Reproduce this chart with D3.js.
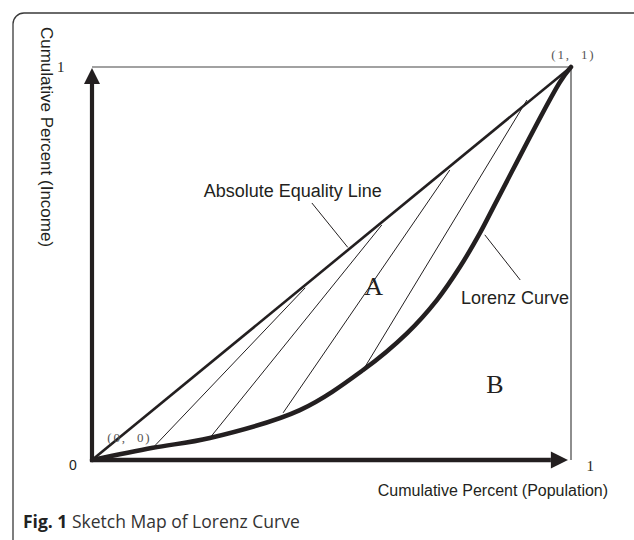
<!DOCTYPE html>
<html>
<head>
<meta charset="utf-8">
<script src="https://cdn.jsdelivr.net/npm/d3@7"></script>
<style>
  body { margin: 0; background: #fff; }
  svg { display: block; }
</style>
</head>
<body>
<svg id="chart" width="634" height="540"></svg>
<script>
// lorenz curve
const lorenzPop    = [0, 0.127, 0.246, 0.434, 0.566, 0.658, 0.720, 0.768, 0.810, 0.846, 0.977, 1]
const lorenzIncome = [0, 0.031, 0.056, 0.127, 0.229, 0.323, 0.407, 0.491, 0.578, 0.662, 0.962, 1]

const equalityPop    = [0, 1]
const equalityIncome = [0, 1]

// hatch lines inside area A (start on the curve, end near the equality line)
const hatchStartPop    = [0.127, 0.246, 0.399, 0.566]
const hatchStartIncome = [0.031, 0.056, 0.120, 0.229]
const hatchEndPop      = [0.445, 0.605, 0.747, 0.908]
const hatchEndIncome   = [0.438, 0.598, 0.738, 0.916]

const tickLabels = ["0", "1"]
const pointLabels = ["(0,\u00a0\u00a00)", "(1,\u00a0\u00a01)"]
const areaLabels = ["A", "B"]

const svg = d3.select("#chart")
const margin = {top: 67, right: 63, bottom: 80, left: 92}
const W = 634, H = 540

const x = d3.scaleLinear().domain([0, 1]).range([margin.left, W - margin.right])
const y = d3.scaleLinear().domain([0, 1]).range([H - margin.bottom, margin.top])

const ink = "#231f20"
const line = d3.line().x(d => x(d[0])).y(d => y(d[1]))

// rounded frame round the figure
svg.append("rect")
  .attr("x", 13).attr("y", 13)
  .attr("width", 640).attr("height", 560)
  .attr("rx", 11)
  .attr("fill", "none")
  .attr("stroke", "#3a3a3a")
  .attr("stroke-width", 1.3)

// thin box: top and right side of the unit square
svg.append("path")
  .attr("d", line([[0, 1], [1, 1], [1, 0]]))
  .attr("fill", "none")
  .attr("stroke", "#444")
  .attr("stroke-width", 1.2)

// axes with arrow heads
svg.append("defs").append("marker")
  .attr("id", "arrow")
  .attr("viewBox", "0 0 10 10")
  .attr("refX", 0).attr("refY", 5)
  .attr("markerWidth", 4.4).attr("markerHeight", 3.8)
  .attr("markerUnits", "strokeWidth")
  .attr("orient", "auto")
  .append("path")
  .attr("d", "M0,0L10,5L0,10Z")
  .attr("fill", ink)

svg.append("path")
  .attr("d", line([[-0.004, 0], [0.958, 0]]))
  .attr("stroke", ink).attr("stroke-width", 4.5)
  .attr("marker-end", "url(#arrow)")

svg.append("path")
  .attr("d", line([[0, -0.005], [0, 0.957]]))
  .attr("stroke", ink).attr("stroke-width", 4.2)
  .attr("marker-end", "url(#arrow)")

// hatch lines
svg.selectAll(".hatch")
  .data(hatchStartPop)
  .enter()
  .append("path")
  .classed("hatch", true)
  .attr("d", (d, i) => line([[d, hatchStartIncome[i]], [hatchEndPop[i], hatchEndIncome[i]]]))
  .attr("stroke", ink)
  .attr("stroke-width", 1)

// absolute equality line
svg.append("path")
  .attr("d", line(equalityPop.map((p, i) => [p, equalityIncome[i]])))
  .attr("fill", "none")
  .attr("stroke", ink)
  .attr("stroke-width", 2.6)

// lorenz curve
svg.append("path")
  .attr("d", d3.line().x(d => x(d[0])).y(d => y(d[1])).curve(d3.curveCatmullRom.alpha(0.5))(lorenzPop.map((p, i) => [p, lorenzIncome[i]])))
  .attr("fill", "none")
  .attr("stroke", ink)
  .attr("stroke-width", 4.5)
  .attr("stroke-linecap", "round")

// leader lines for the two labels
svg.append("path")
  .attr("d", line([[0.459, 0.654], [0.534, 0.541]]))
  .attr("stroke", ink).attr("stroke-width", 1)
svg.append("path")
  .attr("d", line([[0.820, 0.573], [0.894, 0.458]]))
  .attr("stroke", ink).attr("stroke-width", 1)

const sans = "'Liberation Sans', Arial, sans-serif"
const serif = "'Liberation Serif', 'Times New Roman', serif"

svg.append("text")
  .attr("x", x(0.605)).attr("y", y(0.669))
  .attr("text-anchor", "end")
  .attr("font-family", sans).attr("font-size", 18)
  .attr("fill", ink)
  .text("Absolute Equality Line")

svg.append("text")
  .attr("x", x(0.996)).attr("y", y(0.398))
  .attr("text-anchor", "end")
  .attr("font-family", sans).attr("font-size", 18)
  .attr("fill", ink)
  .text("Lorenz Curve")

// area letters
svg.append("text")
  .attr("x", x(0.588)).attr("y", y(0.42))
  .attr("text-anchor", "middle")
  .attr("font-family", serif).attr("font-size", 26)
  .attr("fill", ink)
  .text(areaLabels[0])
svg.append("text")
  .attr("x", x(0.841)).attr("y", y(0.17))
  .attr("text-anchor", "middle")
  .attr("font-family", serif).attr("font-size", 26)
  .attr("fill", ink)
  .text(areaLabels[1])

// point labels
svg.append("text")
  .attr("x", x(0.032)).attr("y", y(0.047))
  .attr("font-family", serif).attr("font-size", 13)
  .attr("letter-spacing", 1.8)
  .attr("fill", "#555")
  .text(pointLabels[0])
svg.append("text")
  .attr("x", x(0.959)).attr("y", y(1.02))
  .attr("font-family", serif).attr("font-size", 13)
  .attr("letter-spacing", 1.8)
  .attr("fill", "#555")
  .text(pointLabels[1])

// tick labels
svg.append("text")
  .attr("x", x(-0.04)).attr("y", y(-0.025))
  .attr("text-anchor", "middle")
  .attr("font-family", sans).attr("font-size", 14)
  .attr("fill", ink)
  .text(tickLabels[0])
svg.append("text")
  .attr("x", x(1.04)).attr("y", y(-0.028))
  .attr("text-anchor", "middle")
  .attr("font-family", serif).attr("font-size", 15)
  .attr("fill", ink)
  .text(tickLabels[1])
svg.append("text")
  .attr("x", x(-0.065)).attr("y", y(0.987))
  .attr("text-anchor", "middle")
  .attr("font-family", serif).attr("font-size", 15)
  .attr("fill", ink)
  .text(tickLabels[1])

// axis titles
svg.append("text")
  .attr("x", x(0.837)).attr("y", H - margin.bottom + 36)
  .attr("text-anchor", "middle")
  .attr("font-family", sans).attr("font-size", 16)
  .attr("fill", ink)
  .text("Cumulative Percent (Population)")

svg.append("text")
  .attr("transform", "translate(41,137) rotate(90)")
  .attr("text-anchor", "middle")
  .attr("font-family", sans).attr("font-size", 17)
  .attr("fill", ink)
  .text("Cumulative Percent (Income)")

// caption
const cap = svg.append("text")
  .attr("x", 23).attr("y", 528)
  .attr("font-family", "'Open Sans', 'Noto Sans', sans-serif")
  .attr("font-size", 17.5)
  .attr("fill", "#333")
cap.append("tspan").attr("font-weight", "bold").attr("fill", "#222").text("Fig. 1")
cap.append("tspan").text(" Sketch Map of Lorenz Curve")
</script>
</body>
</html>
